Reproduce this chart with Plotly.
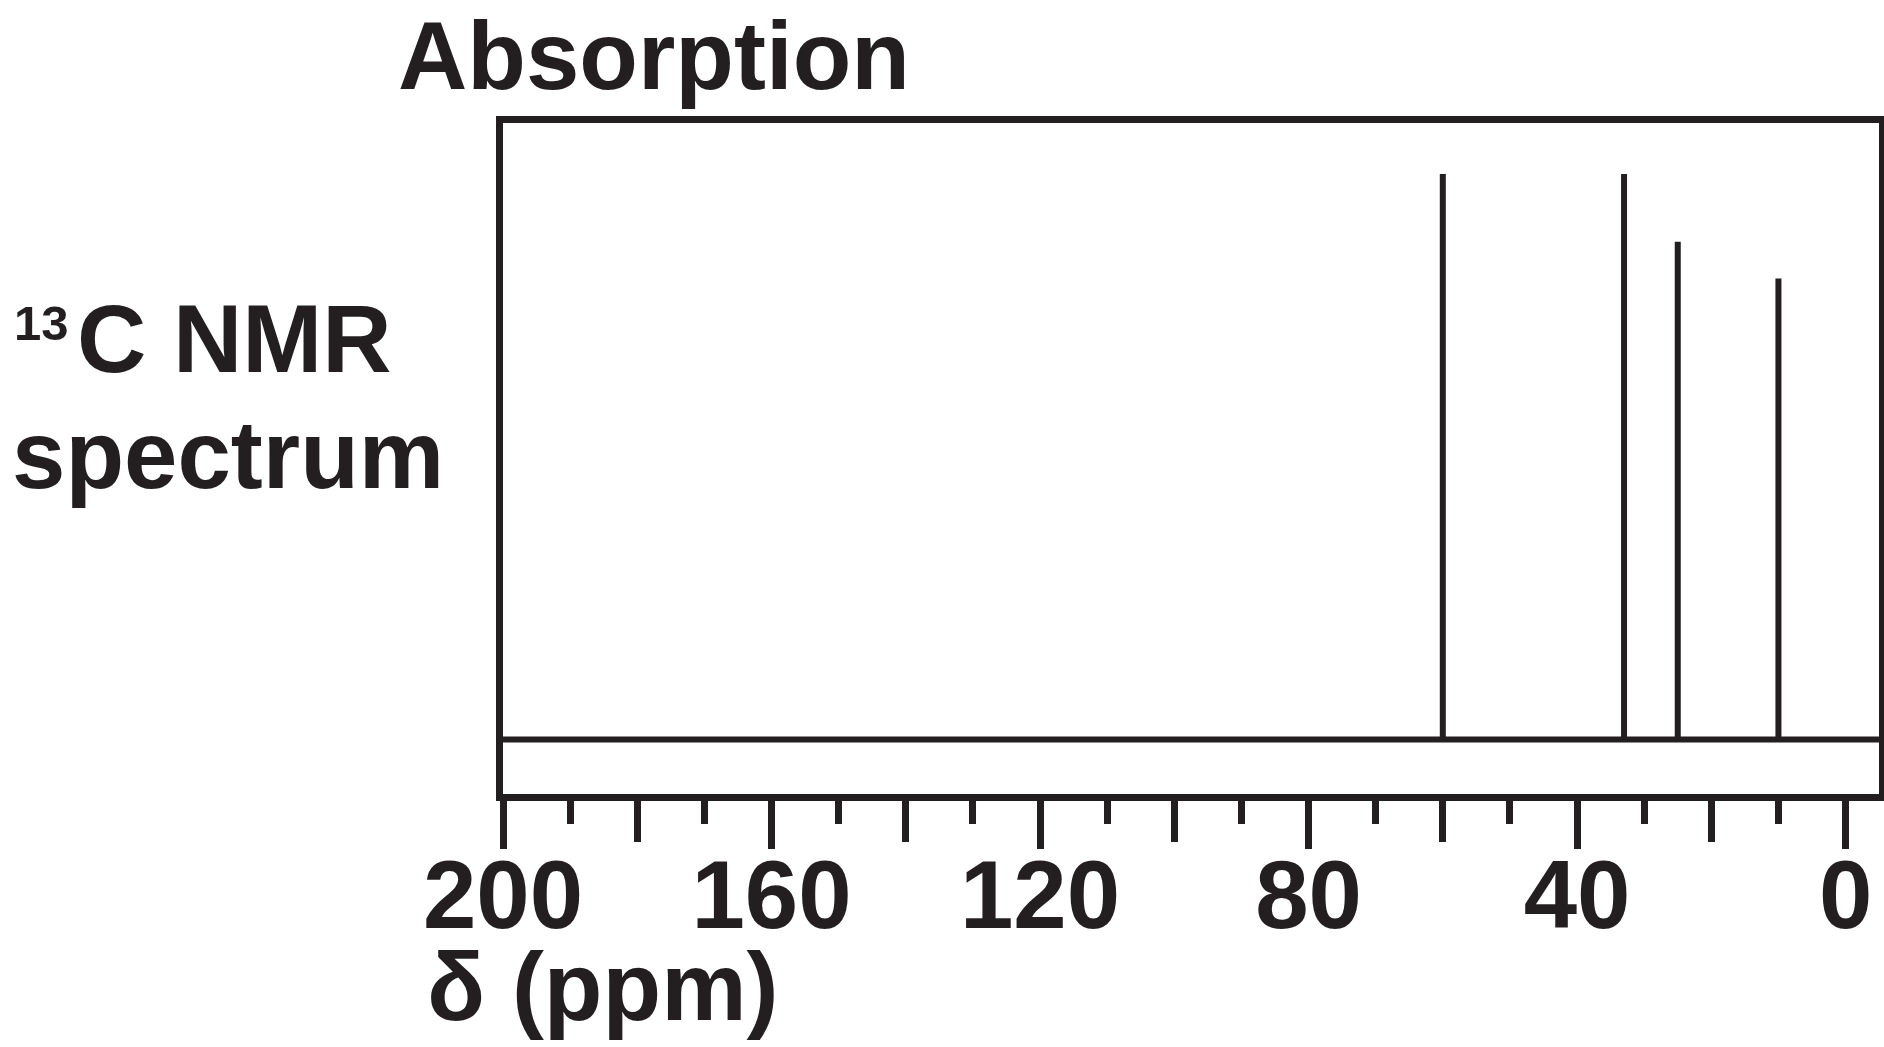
import plotly.graph_objects as go

# ---- data ----
peak_ppm = [60, 33, 25, 10]
peak_height = [100, 100, 88, 81.5]
baseline_extent = [200, -4.98]
major_ticks = [200, 160, 120, 80, 40, 0]
major_labels = ["200", "160", "120", "80", "40", "0"]
mid_ticks = [180, 140, 100, 60, 20]
minor_ticks = [190, 170, 150, 130, 110, 90, 70, 50, 30, 10]

INK = "#231f20"
FONT = "Liberation Sans, Arial, Helvetica, sans-serif"

# build stick spectrum line
xs = [baseline_extent[0]]
ys = [0]
for p, h in sorted(zip(peak_ppm, peak_height), reverse=True):
    xs += [p, p, p]
    ys += [0, h, 0]
xs.append(baseline_extent[1])
ys.append(0)

fig = go.Figure()
fig.add_trace(go.Scatter(x=xs, y=ys, mode="lines",
                         line=dict(color=INK, width=6),
                         hoverinfo="skip", showlegend=False))
fig.add_trace(go.Scatter(x=[], y=[], xaxis="x2", yaxis="y",
                         mode="lines", showlegend=False))

W, H = 1884, 1047
L, R, T, B = 503, 5, 123, 252.5
pw = W - L - R
ph = H - T - B

def px(xp):
    return (xp - L) / pw

def py(yp):
    return (H - B - yp) / ph

xrange = [200, -4.98]
tickfont = dict(family=FONT, size=96, color=INK, weight="bold")

fig.update_layout(
    template="none",
    width=W, height=H,
    margin=dict(l=L, r=R, t=T, b=B, pad=0),
    paper_bgcolor="white", plot_bgcolor="white",
    xaxis=dict(
        range=xrange, showgrid=False, zeroline=False, automargin=False,
        showline=True, linewidth=7, linecolor=INK, mirror=True,
        tickmode="array", tickvals=major_ticks, ticktext=major_labels,
        ticks="outside", ticklen=48, tickwidth=7, tickcolor=INK,
        tickfont=tickfont, ticklabelstandoff=-36,
        minor=dict(tickmode="array", tickvals=minor_ticks, ticks="outside",
                   ticklen=23, tickwidth=7, tickcolor=INK, showgrid=False),
    ),
    xaxis2=dict(
        range=xrange, overlaying="x", anchor="y", side="bottom",
        showgrid=False, zeroline=False, automargin=False,
        showline=True, linewidth=7, linecolor=INK,
        tickmode="array", tickvals=mid_ticks, showticklabels=False,
        ticks="outside", ticklen=41, tickwidth=7, tickcolor=INK,
    ),
    yaxis=dict(
        range=[-9.63, 109.0], showgrid=False, zeroline=False, automargin=False,
        showline=True, linewidth=7, linecolor=INK, mirror=True,
        showticklabels=False, ticks="",
    ),
)

big = dict(family=FONT, size=96, color=INK, weight="bold")
small = dict(family=FONT, size=49, color=INK, weight="bold")

fig.add_annotation(text="Absorption", xref="paper", yref="paper",
                   x=px(396), y=py(111), xanchor="left", yanchor="bottom",
                   showarrow=False, font=big)
fig.add_annotation(text="13", xref="paper", yref="paper",
                   x=px(12), y=py(352), xanchor="left", yanchor="bottom",
                   showarrow=False, font=small)
fig.add_annotation(text="C NMR", xref="paper", yref="paper",
                   x=px(75), y=py(394), xanchor="left", yanchor="bottom",
                   showarrow=False, font=big)
fig.add_annotation(text="spectrum", xref="paper", yref="paper",
                   x=px(10), y=py(510), xanchor="left", yanchor="bottom",
                   showarrow=False, font=big)
fig.add_annotation(text="δ (ppm)", xref="paper", yref="paper",
                   x=px(425), y=py(1043), xanchor="left", yanchor="bottom",
                   showarrow=False, font=big)

fig.write_html(
    "out.html",
    config={"displayModeBar": False},
    post_script="document.body.style.margin='0px';document.body.style.overflow='hidden';",
)
